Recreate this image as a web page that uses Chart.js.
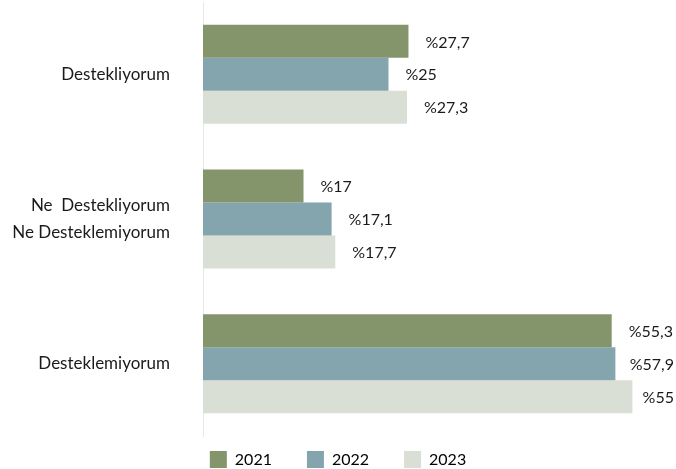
<!DOCTYPE html>
<html>
<head>
<meta charset="utf-8">
<script src="https://cdn.jsdelivr.net/npm/chart.js@4"></script>
<style>
  html, body { margin: 0; padding: 0; background: #fff; }
  #wrap { width: 676px; height: 469px; }
</style>
</head>
<body>
<div id="wrap"><canvas id="barCanvas"></canvas></div>
<script>
const categories = ["Destekliyorum", ["Ne  Destekliyorum", "Ne Desteklemiyorum"], "Desteklemiyorum"];
const years = ["2021", "2022", "2023"];

// bar lengths as drawn in the picture
const bar2021 = [27.8, 13.6, 55.3];
const bar2022 = [25.1, 17.4, 55.8];
const bar2023 = [27.6, 17.9, 58.1];

// values printed next to the bars
const pct2021 = [27.7, 17, 55.3];
const pct2022 = [25, 17.1, 57.9];
const pct2023 = [27.3, 17.7, 55];

const colors = ["#84946b", "#84a5ae", "#d9dfd5"];
const FONT = "Lato";

const fmt = v => "%" + String(v).replace(".", ",");

const barLabels = {
    id: "barLabels",
    afterDatasetsDraw(chart) {
        const ctx = chart.ctx;
        ctx.save();
        ctx.font = "16px " + FONT;
        ctx.fillStyle = "#1a1a1a";
        ctx.textAlign = "left";
        ctx.textBaseline = "middle";
        chart.data.datasets.forEach((ds, i) => {
            chart.getDatasetMeta(i).data.forEach((el, j) => {
                const txt = fmt(ds.pct[j]);
                const w = ctx.measureText(txt).width;
                let x = el.x + 17;
                if (x + w > chart.width - 2) x = chart.width - 2 - w;
                ctx.fillText(txt, x, el.y + 1);
            });
        });
        ctx.restore();
    }
};

const barCanvas = document.getElementById("barCanvas");

const barChart = new Chart(barCanvas, {
    type: "bar",
    data: {
        labels: categories,
        datasets: [
            { label: years[0], data: bar2021, pct: pct2021, backgroundColor: colors[0] },
            { label: years[1], data: bar2022, pct: pct2022, backgroundColor: colors[1] },
            { label: years[2], data: bar2023, pct: pct2023, backgroundColor: colors[2] }
        ]
    },
    options: {
        indexAxis: "y",
        responsive: true,
        maintainAspectRatio: false,
        animation: false,
        categoryPercentage: 0.684,
        barPercentage: 1,
        layout: {
            padding: { top: 2, right: 0, bottom: -9, left: 0 }
        },
        scales: {
            x: {
                display: false,
                min: 0,
                max: 64
            },
            y: {
                grid: {
                    display: false,
                    drawTicks: false
                },
                border: {
                    display: true,
                    color: "#e8e8e8",
                    width: 1
                },
                ticks: {
                    color: "#1a1a1a",
                    padding: 33,
                    font: {
                        family: FONT,
                        size: 17,
                        lineHeight: 1.6
                    }
                },
                afterFit(scale) {
                    scale.width = 203;
                    scale.paddingTop = 0;
                    scale.paddingBottom = 0;
                }
            }
        },
        plugins: {
            legend: {
                position: "bottom",
                labels: {
                    boxWidth: 17,
                    boxHeight: 17,
                    padding: 15,
                    color: "#1a1a1a",
                    font: {
                        family: FONT,
                        size: 16
                    },
                    generateLabels(chart) {
                        return chart.data.datasets.map((ds, i) => ({
                            text: ds.label + (i < chart.data.datasets.length - 1 ? "\u2003\u2002" : ""),
                            fillStyle: ds.backgroundColor,
                            strokeStyle: ds.backgroundColor,
                            lineWidth: 0,
                            datasetIndex: i
                        }));
                    }
                }
            },
            tooltip: { enabled: false }
        }
    },
    plugins: [barLabels]
});
</script>
</body>
</html>
